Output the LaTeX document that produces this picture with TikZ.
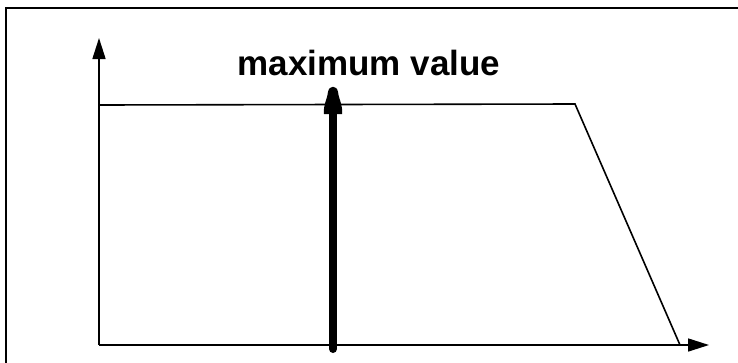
\documentclass[tikz,border=0pt]{standalone}
\usepackage{fontspec}
\setmainfont{Liberation Sans}
\usetikzlibrary{arrows.meta}
\begin{document}
\begin{tikzpicture}[x=1pt,y=-1pt,
  axisline/.style={line width=1.6pt,-{Triangle[length=21pt,width=13pt]}},
  curveline/.style={line width=1.6pt,line join=miter},
  frameline/.style={line width=2.2pt}]
\useasboundingbox (0,0) rectangle (738,362);
% frame (top and left edges; the rest runs off the picture)
\draw[frameline] (6,370) -- (6,8) -- (745,8);
% axes
\coordinate (O) at (99,345);
\coordinate (ytop) at (99,38);
\coordinate (xend) at (709,345);
\draw[axisline] (O) -- (ytop);
\draw[axisline] (O) -- (xend);
% curve
\coordinate (c1) at (99,105);
\coordinate (c2) at (575,104);
\coordinate (c3) at (680,345);
\draw[curveline] (c1) -- (c2) -- (c3);
% thick arrow
\coordinate (sb) at (333,349);
\coordinate (st) at (333,110);
\draw[line width=8pt,line cap=round] (sb) -- (st);
\fill (324,114) .. controls (323,105) and (327,100) .. (328,92)
  .. controls (329,85) and (337,85) .. (338,92)
  .. controls (339,100) and (343,105) .. (342,114) -- cycle;
% label
\node[font=\bfseries\fontsize{35}{40}\selectfont,anchor=base,inner sep=0pt] (lbl) at (369,75) {maximum value};
\end{tikzpicture}
\end{document}
